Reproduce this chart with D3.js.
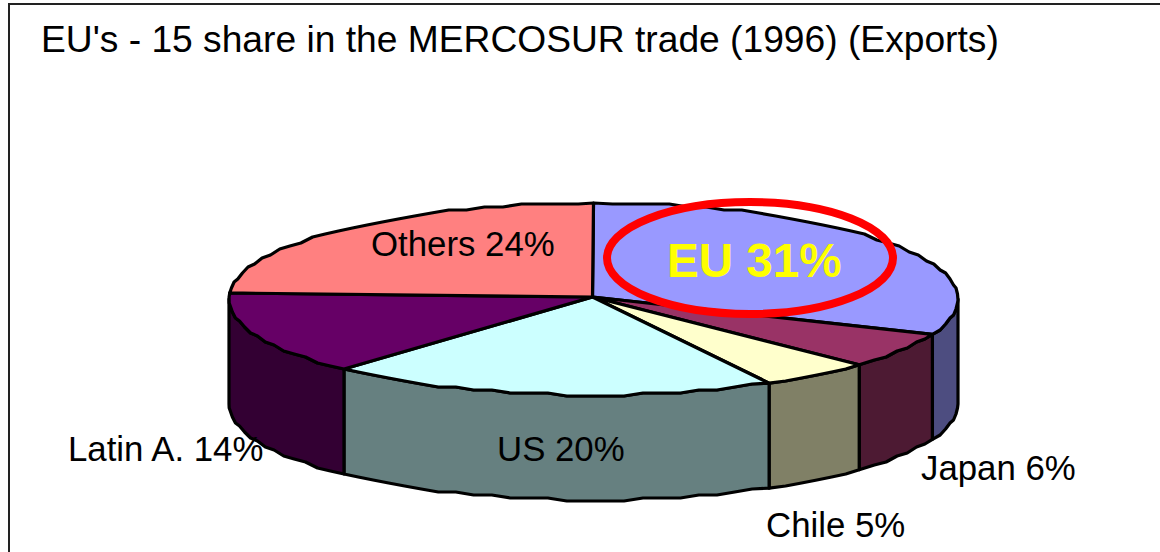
<!DOCTYPE html>
<html>
<head>
<meta charset="utf-8">
<script src="https://cdn.jsdelivr.net/npm/d3@7"></script>
<style>
    html, body { margin: 0; padding: 0; background: #fff; }
    svg { display: block; }
    text { font-family: "Liberation Sans", Arial, sans-serif; fill: #000; }
</style>
</head>
<body>
<div id="graph"></div>
<script>
const categories = ["EU", "Japan", "Chile", "US", "Latin A.", "Others"]
const shares = [31, 6, 5, 20, 14, 24]
const topColors = ["#9999ff", "#993366", "#ffffcc", "#ccffff", "#660066", "#ff8080"]
const sideColors = ["#4d4d80", "#4d1a33", "#808066", "#668080", "#330033", "#804040"]
const title = "EU's - 15 share in the MERCOSUR trade (1996) (Exports)"

const width = 1160
const height = 552

const cx = 593.5
const cy = 297
const rx = 364.5
const ry = 96
const depth = 105
const step = 3 * Math.PI / 180

const svg = d3.select("#graph").append("svg")
    .attr("width", width)
    .attr("height", height)

// Frame, open on the right and bottom like the cropped slide
svg.append("path")
    .attr("d", `M9,${height}V4H${width}`)
    .attr("fill", "none")
    .attr("stroke", "#222")
    .attr("stroke-width", 2)

svg.append("text")
    .attr("x", 41)
    .attr("y", 52)
    .attr("font-size", 37.2)
    .text(title)

const pie = d3.pie().sort(null).value(d => d)
const slices = pie(shares)

// Point on the tilted rim, exact for the slice corners
const rim = (a, dy = 0) => [cx + rx * Math.sin(a), cy + 2 - ry * Math.cos(a) + dy]

// Same point with y snapped to a coarse grid, gives the wavy outline of the original
const snapped = (a, dy = 0) => {
    const [x, y] = rim(a, dy)
    return [x, Math.round(y / 3) * 3]
}

const rimPoints = (a0, a1, dy = 0) => {
    const inner = d3.range(a0 + step, a1 - step / 2, step)
    return [rim(a0, dy), ...inner.map(a => snapped(a, dy)), rim(a1, dy)]
}

// Walls: only the part of the rim facing the viewer
const front = (a0, a1) => {
    const from = Math.max(a0, Math.PI / 2)
    const to = Math.min(a1, Math.PI * 1.5)
    if (to <= from) return null
    return d3.line()([...rimPoints(from, to), ...rimPoints(from, to, depth).reverse()]) + "Z"
}

svg.append("g")
    .attr("stroke", "#000")
    .attr("stroke-width", 3.2)
    .attr("stroke-linejoin", "round")
    .selectAll()
    .data(slices.filter(d => front(d.startAngle, d.endAngle)))
    .join("path")
    .attr("fill", d => sideColors[d.index])
    .attr("d", d => front(d.startAngle, d.endAngle))

// Top face
const topFace = d => d3.line()([[cx - 1, cy], ...rimPoints(d.startAngle, d.endAngle)]) + "Z"

svg.append("g")
    .attr("stroke", "#000")
    .attr("stroke-width", 3.2)
    .attr("stroke-linejoin", "round")
    .selectAll()
    .data(slices)
    .join("path")
    .attr("fill", d => topColors[d.index])
    .attr("d", topFace)

// Highlight ring around the EU slice
svg.append("ellipse")
    .attr("cx", 750)
    .attr("cy", 258)
    .attr("rx", 143)
    .attr("ry", 56)
    .attr("fill", "none")
    .attr("stroke", "#ff0000")
    .attr("stroke-width", 8)

// Labels
const labels = [
    { i: 5, x: 371, y: 256 },
    { i: 3, x: 497, y: 461 },
    { i: 4, x: 68, y: 461 },
    { i: 1, x: 921, y: 480 },
    { i: 2, x: 766, y: 537 }
]

svg.append("g")
    .attr("font-size", 34.8)
    .selectAll()
    .data(labels)
    .join("text")
    .attr("x", d => d.x)
    .attr("y", d => d.y)
    .text(d => `${categories[d.i]} ${shares[d.i]}%`)

svg.append("text")
    .attr("x", 667)
    .attr("y", 277)
    .attr("font-size", 47.6)
    .attr("font-weight", "bold")
    .style("fill", "#ffff00")
    .text(`${categories[0]} ${shares[0]}%`)
</script>
</body>
</html>
